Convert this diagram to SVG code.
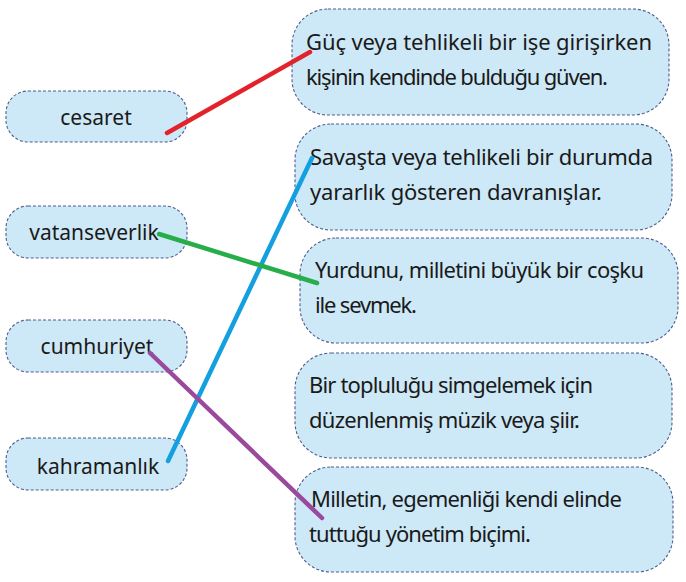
<svg xmlns="http://www.w3.org/2000/svg" width="686" height="582" viewBox="0 0 686 582">
<style>
.box{fill:#cde8f6;stroke:#4f5d8c;stroke-width:1.1;stroke-dasharray:3 2}
.t{font-family:"Noto Sans","Liberation Sans",sans-serif;font-size:22px;fill:#1a1a1a}
.l{font-family:"Noto Sans","Liberation Sans",sans-serif;font-size:21px;fill:#1a1a1a;text-anchor:middle}
.c{fill:none;stroke-width:4.5;stroke-linecap:round}
</style>
<rect width="686" height="582" fill="#ffffff"/>
<g id="cesaret"><rect class="box" x="6" y="91" width="181" height="51" rx="22"/><text class="l" x="96" y="125">cesaret</text></g>
<g id="vatanseverlik"><rect class="box" x="6" y="206" width="181" height="52" rx="22"/><text class="l" x="94" y="240">vatanseverlik</text></g>
<g id="cumhuriyet"><rect class="box" x="6" y="320" width="181" height="52" rx="22"/><text class="l" x="97" y="354">cumhuriyet</text></g>
<g id="kahramanlik"><rect class="box" x="6" y="438" width="181" height="52" rx="22"/><text class="l" x="98" y="474">kahramanlık</text></g>
<g id="def1"><rect class="box" x="292" y="9" width="377" height="106" rx="36"/>
<text class="t" x="306" y="50" textLength="346" lengthAdjust="spacing">Güç veya tehlikeli bir işe girişirken</text>
<text class="t" x="306" y="85" textLength="302" lengthAdjust="spacing">kişinin kendinde bulduğu güven.</text></g>
<g id="def2"><rect class="box" x="295" y="124" width="377" height="106" rx="36"/>
<text class="t" x="310" y="165" textLength="343" lengthAdjust="spacing">Savaşta veya tehlikeli bir durumda</text>
<text class="t" x="310" y="200" textLength="292" lengthAdjust="spacing">yararlık gösteren davranışlar.</text></g>
<g id="def3"><rect class="box" x="300" y="238" width="378" height="105" rx="36"/>
<text class="t" x="315" y="278" textLength="329" lengthAdjust="spacing">Yurdunu, milletini büyük bir coşku</text>
<text class="t" x="315" y="313" textLength="102" lengthAdjust="spacing">ile sevmek.</text></g>
<g id="def4"><rect class="box" x="295" y="353" width="377" height="105" rx="36"/>
<text class="t" x="309" y="393" textLength="284" lengthAdjust="spacing">Bir topluluğu simgelemek için</text>
<text class="t" x="309" y="428" textLength="271" lengthAdjust="spacing">düzenlenmiş müzik veya şiir.</text></g>
<g id="def5"><rect class="box" x="295" y="467" width="378" height="105" rx="36"/>
<text class="t" x="311" y="507" textLength="311" lengthAdjust="spacing">Milletin, egemenliği kendi elinde</text>
<text class="t" x="309" y="542" textLength="222" lengthAdjust="spacing">tuttuğu yönetim biçimi.</text></g>
<g id="connectors">
<line class="c" x1="167" y1="133" x2="310" y2="52" stroke="#e3232b"/>
<line class="c" x1="168" y1="461" x2="312" y2="158" stroke="#139fe0"/>
<line class="c" x1="159" y1="234" x2="317" y2="283" stroke="#27ae4a"/>
<line class="c" x1="150" y1="353" x2="322" y2="518" stroke="#9a4a9d"/>
</g>
</svg>
